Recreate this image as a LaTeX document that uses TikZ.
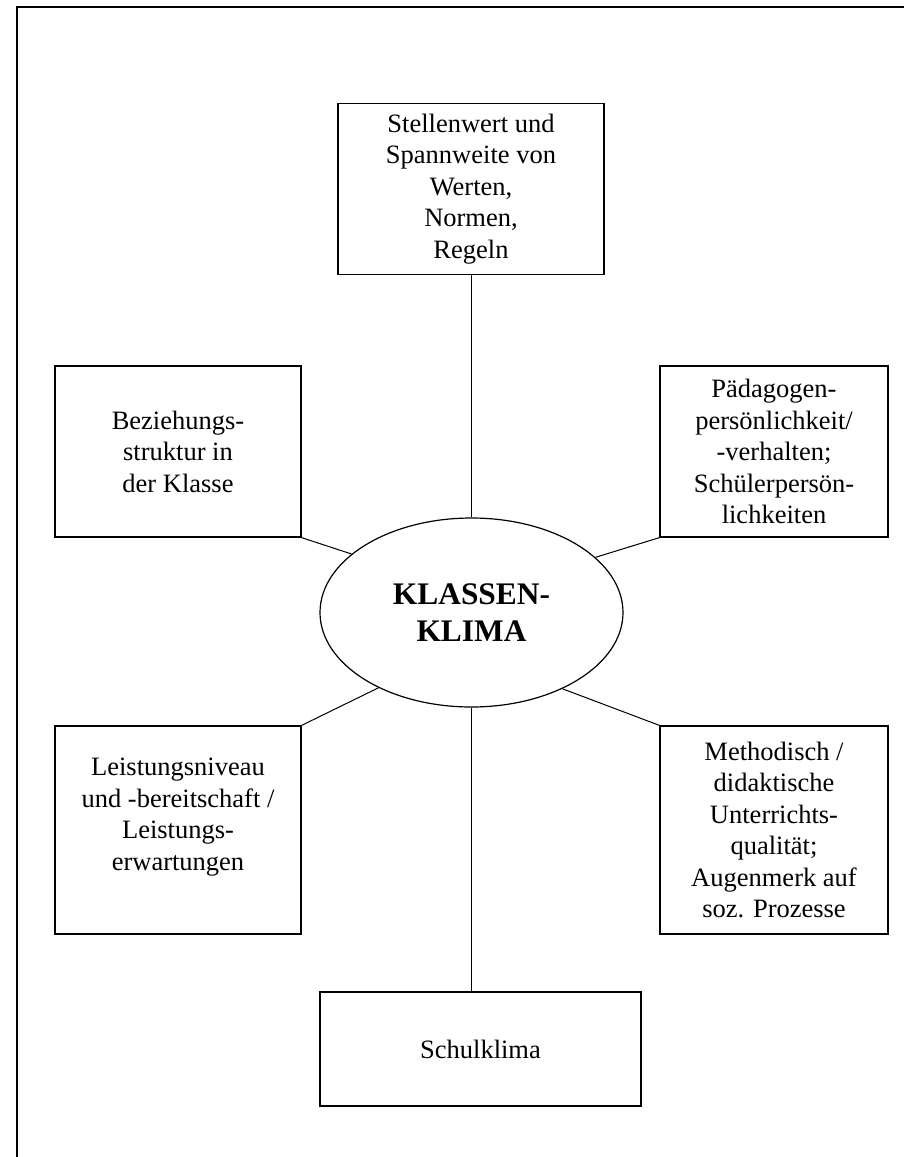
\documentclass[tikz,border=0pt]{standalone}
\usepackage{fontspec}
\setmainfont{Liberation Serif}
\usetikzlibrary{shapes.geometric}
\begin{document}
\begin{tikzpicture}[x=1pt,y=-1pt,
  box/.style={draw,line width=1.3pt,rectangle,inner sep=0pt,align=center,
    font=\fontsize{26.5}{31.5}\selectfont},
  conn/.style={line width=1pt},
  frame/.style={line width=2pt}]
\useasboundingbox (0,0) rectangle (904,1157);
\coordinate (f1) at (17,1157);
\coordinate (f2) at (17,7);
\coordinate (f3) at (904,7);
\draw[frame] (f1) -- (f2) -- (f3);

\node[ellipse,draw,line width=1.2pt,minimum width=303pt,minimum height=189pt,inner sep=0pt,
  align=center,font=\fontsize{31.4}{37}\selectfont\bfseries] (ell) at (471.5,612.5)
  {KLASSEN-\\KLIMA};

\node[box,minimum width=266pt,minimum height=171pt] (top) at (471,189)
  {Stellenwert und\\Spannweite von\\Werten,\\Normen,\\Regeln};
\node[box,minimum width=246pt,minimum height=171pt] (lt) at (178,451.5)
  {Beziehungs-\\struktur in\\der Klasse};
\node[box,minimum width=228pt,minimum height=171pt] (rt) at (774,451.5)
  {Pädagogen-\\persönlichkeit/\\-verhalten;\\Schülerpersön-\\lichkeiten};
\node[box,minimum width=246pt,minimum height=208pt] (lb) at (178,830)
  {Leistungsniveau\\und -bereitschaft /\\Leistungs-\\erwartungen\\\mbox{}};
\node[box,minimum width=228pt,minimum height=208pt] (rb) at (774,830)
  {Methodisch /\\didaktische\\Unterrichts-\\qualität;\\Augenmerk auf\\soz. Prozesse};
\node[box,minimum width=321pt,minimum height=114pt] (sk) at (480.5,1049)
  {Schulklima};

\draw[conn] (top.south -| ell.north) -- (ell.north);
\draw[conn] (ell.south) -- (ell.south |- sk.north);
\draw[conn] (lt.south east) -- (ell.154);
\draw[conn] (rt.south west) -- (ell.24);
\draw[conn] (lb.north east) -- (ell.219);
\draw[conn] (rb.north west) -- (ell.320);
\end{tikzpicture}
\end{document}
